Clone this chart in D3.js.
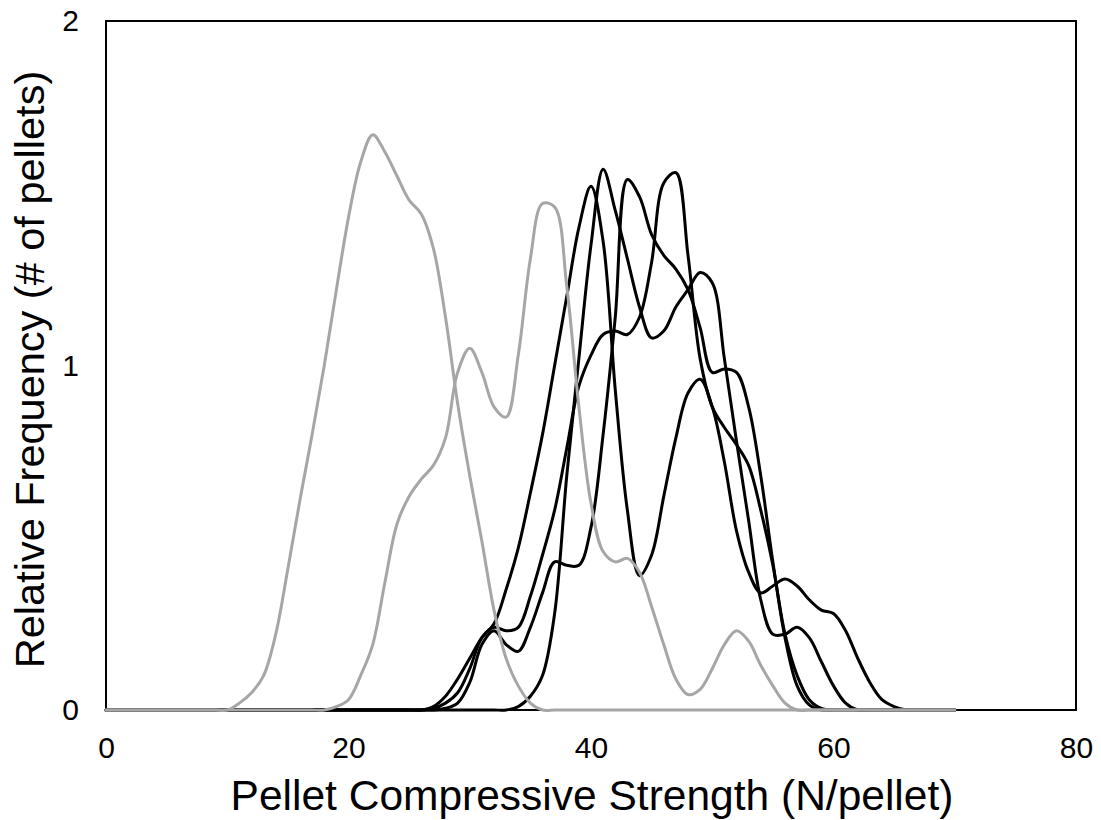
<!DOCTYPE html>
<html>
<head>
<meta charset="utf-8">
<script src="https://cdn.jsdelivr.net/npm/d3@7"></script>
<style>
  body { margin: 0; background: #fff; }
  svg { display: block; }
  text { font-family: "Liberation Sans", Arial, sans-serif; fill: #000; }
</style>
</head>
<body>
<svg id="chart" width="1101" height="820"></svg>
<script>
// Compressive strength grid (N/pellet)
const strength = d3.range(0, 71);

// Relative frequency of each batch along the strength grid
const greyA = [0,0,0,0,0,0,0,0,0,0,0,
  0.02,0.05,0.10,0.22,0.41,0.61,0.80,1.00,1.22,1.43,
  1.59,1.67,1.62,1.55,1.48,1.44,1.34,1.14,0.89,0.68,
  0.49,0.29,0.15,0.07,0.02,0,0,0,0,0,
  0,0,0,0,0,0,0,0,0,0,
  0,0,0,0,0,0,0,0,0,0,
  0,0,0,0,0,0,0,0,0,0];
const greyB = [0,0,0,0,0,0,0,0,0,0,0,0,0,0,0,0,0,0,0,
  0.01,0.03,0.10,0.19,0.37,0.54,0.62,0.67,0.71,0.79,0.98,
  1.05,0.98,0.88,0.85,1.03,1.31,1.47,1.46,1.23,0.88,
  0.60,0.46,0.43,0.44,0.40,0.30,0.19,0.09,0.045,0.06,
  0.12,0.19,0.23,0.20,0.13,0.07,0.02,0,0,0,
  0,0,0,0,0,0,0,0,0,0,0,0];
const black1 = [0,0,0,0,0,0,0,0,0,0,0,0,0,0,0,0,0,0,0,0,0,0,0,0,0,0,0,
  0.01,0.04,0.09,0.15,0.21,0.25,0.35,0.47,0.63,0.80,1.00,1.20,1.40,
  1.52,1.36,0.93,0.58,0.39,0.45,0.62,0.79,0.92,0.96,
  0.88,0.72,0.52,0.40,0.34,0.36,0.38,0.36,0.32,0.29,
  0.28,0.23,0.15,0.08,0.03,0.01,0,0,0,0,0];
const black2 = [0,0,0,0,0,0,0,0,0,0,0,0,0,0,0,0,0,0,0,0,0,0,0,0,0,0,0,0,0,0,0,0,0,0,
  0.01,0.04,0.10,0.28,0.68,1.02,
  1.35,1.57,1.45,1.31,1.17,1.08,1.10,1.17,1.22,1.27,
  1.24,1.02,0.78,0.55,0.32,0.22,0.22,0.24,0.21,0.14,
  0.07,0.02,0,0,0,0,0,0,0,0,0];
const black3 = [0,0,0,0,0,0,0,0,0,0,0,0,0,0,0,0,0,0,0,0,0,0,0,0,0,0,0,0,
  0.005,0.02,0.08,0.19,0.23,0.19,0.17,0.24,0.34,0.43,0.42,0.42,
  0.53,0.80,1.14,1.54,1.49,1.38,1.32,1.28,1.22,1.11,
  0.98,0.99,0.98,0.88,0.68,0.43,0.21,0.07,0.015,0,
  0,0,0,0,0,0,0,0,0,0,0];
const black4 = [0,0,0,0,0,0,0,0,0,0,0,0,0,0,0,0,0,0,0,0,0,0,0,0,0,0,0,
  0.005,0.02,0.05,0.12,0.21,0.24,0.23,0.24,0.33,0.45,0.58,0.76,0.94,
  1.03,1.09,1.10,1.09,1.14,1.30,1.53,1.56,1.32,1.02,
  0.88,0.82,0.77,0.71,0.58,0.42,0.22,0.10,0.03,0.005,
  0,0,0,0,0,0,0,0,0,0,0];

const xTicks = [0, 20, 40, 60, 80];
const yTicks = [0, 1, 2];

const blackSeries = [black1, black2, black3, black4];
const greySeries = [greyA, greyB];

const margin = { left: 106, right: 25, top: 21, bottom: 110 };
const width = 1101, height = 820;

const svg = d3.select("#chart");

const x = d3.scaleLinear().domain([0, 80]).range([margin.left, width - margin.right]);
const y = d3.scaleLinear().domain([0, 2]).range([height - margin.bottom, margin.top]);

const line = d3.line()
  .x((d, i) => x(strength[i]))
  .y(d => y(d))
  .curve(d3.curveCatmullRom.alpha(0.5));

// Plot frame
svg.append("rect")
  .attr("x", x(0)).attr("y", y(2))
  .attr("width", x(80) - x(0)).attr("height", y(0) - y(2))
  .attr("fill", "none").attr("stroke", "#000").attr("stroke-width", 2);

// Axes: labels only, no tick marks
const xAxis = d3.axisBottom(x).tickValues(xTicks).tickSize(0).tickPadding(0).tickFormat(d3.format("d"));
const gx = svg.append("g").attr("transform", `translate(0,${y(0)})`).call(xAxis);
gx.select(".domain").remove();
gx.selectAll("text").attr("font-size", 30).attr("dy", null).attr("y", 48)
  .style("font-family", '"Liberation Sans", Arial, sans-serif');

const yAxis = d3.axisLeft(y).tickValues(yTicks).tickSize(0).tickPadding(0).tickFormat(d3.format("d"));
const gy = svg.append("g").attr("transform", `translate(${x(0)},0)`).call(yAxis);
gy.select(".domain").remove();
gy.selectAll("text").attr("font-size", 30).attr("x", -27).attr("dy", "0.33em")
  .style("font-family", '"Liberation Sans", Arial, sans-serif');

// Curves: black batches first, grey batches on top
svg.append("g").selectAll("path").data(blackSeries).join("path")
  .attr("d", line)
  .attr("fill", "none").attr("stroke", "#000").attr("stroke-width", 3)
  .attr("stroke-linejoin", "round").attr("stroke-linecap", "round");

svg.append("g").selectAll("path").data(greySeries).join("path")
  .attr("d", line)
  .attr("fill", "none").attr("stroke", "#a6a6a6").attr("stroke-width", 3)
  .attr("stroke-linejoin", "round").attr("stroke-linecap", "round");

// Axis titles
svg.append("text")
  .attr("x", (x(0) + x(80)) / 2 + 1).attr("y", 810)
  .attr("text-anchor", "middle").attr("font-size", 42.5)
  .text("Pellet Compressive Strength (N/pellet)");

svg.append("text")
  .attr("transform", `translate(44,${(y(0) + y(2)) / 2 + 4}) rotate(-90)`)
  .attr("text-anchor", "middle").attr("font-size", 41.5)
  .text("Relative Frequency (# of pellets)");
</script>
</body>
</html>
